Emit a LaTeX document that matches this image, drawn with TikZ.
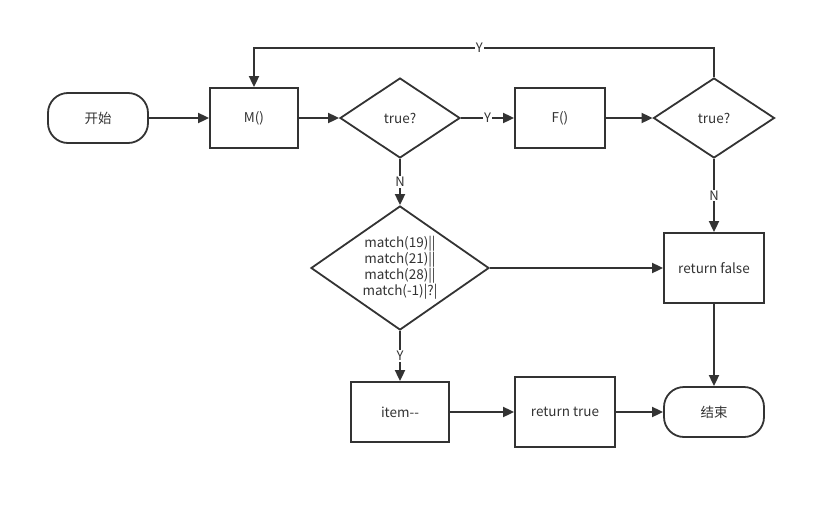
\documentclass[tikz,border=0pt]{standalone}
\usepackage{fontspec}
\setmainfont{Noto Sans CJK SC}
\usetikzlibrary{shapes.geometric,arrows.meta}
\definecolor{ink}{HTML}{333333}
\begin{document}
\begin{tikzpicture}[x=1pt,y=-1pt,
  every node/.style={font=\fontsize{13.5}{16}\selectfont, text=ink},
  box/.style={draw=ink, line width=1.8pt, rectangle, inner sep=0pt, align=center},
  term/.style={draw=ink, line width=1.8pt, rectangle, rounded corners=20pt, minimum width=100pt, minimum height=50pt, inner sep=0pt},
  dia/.style={draw=ink, line width=1.8pt, diamond, inner sep=0pt, align=center},
  conn/.style={draw=ink, line width=1.8pt, -{Triangle[length=11pt,width=10pt]}},
  lab/.style={fill=white, inner sep=1pt, font=\fontsize{13}{14}\selectfont}
]
\useasboundingbox (0,0) rectangle (836,509);
\node[term] (start) at (98,118) {开始};
\node[box, minimum width=88pt, minimum height=60pt] (m) at (254,118) {M()};
\node[dia, minimum width=120pt, minimum height=80pt, aspect=1.5] (d1) at (400,118) {true?};
\node[box, minimum width=90pt, minimum height=60pt] (f) at (560,118) {F()};
\node[dia, minimum width=121pt, minimum height=80pt, aspect=1.5] (d2) at (714,118) {true?};
\node[dia, minimum width=178pt, minimum height=124pt, aspect=1.43] (d3) at (400,268) {match(19)||\\match(21)||\\match(28)||\\match(-1)|?|};
\node[box, minimum width=100pt, minimum height=70pt] (rf) at (714,268) {return false};
\node[box, minimum width=98pt, minimum height=60pt] (it) at (400,412) {item-{}-};
\node[box, minimum width=100pt, minimum height=70pt] (rt) at (565,412) {return true};
\node[term] (end) at (714,412) {结束};
\coordinate (c1) at (714,48);
\coordinate (c2) at (254,48);

\draw[conn] (start) -- (m);
\draw[conn] (m) -- (d1);
\draw[conn] (d1) -- node[lab, pos=0.5] {Y} (f);
\draw[conn] (f) -- (d2);
\draw[conn] (d2.north) -- (c1) -- node[lab, pos=0.51] {Y} (c2) -- (m.north);
\draw[conn] (d1) -- node[lab, pos=0.5] {N} (d3);
\draw[conn] (d2) -- node[lab, pos=0.5] {N} (rf);
\draw[conn] (d3) -- (rf);
\draw[conn] (d3) -- node[lab, pos=0.5] {Y} (it);
\draw[conn] (it) -- (rt);
\draw[conn] (rt) -- (end);
\draw[conn] (rf) -- (end);
\end{tikzpicture}
\end{document}
